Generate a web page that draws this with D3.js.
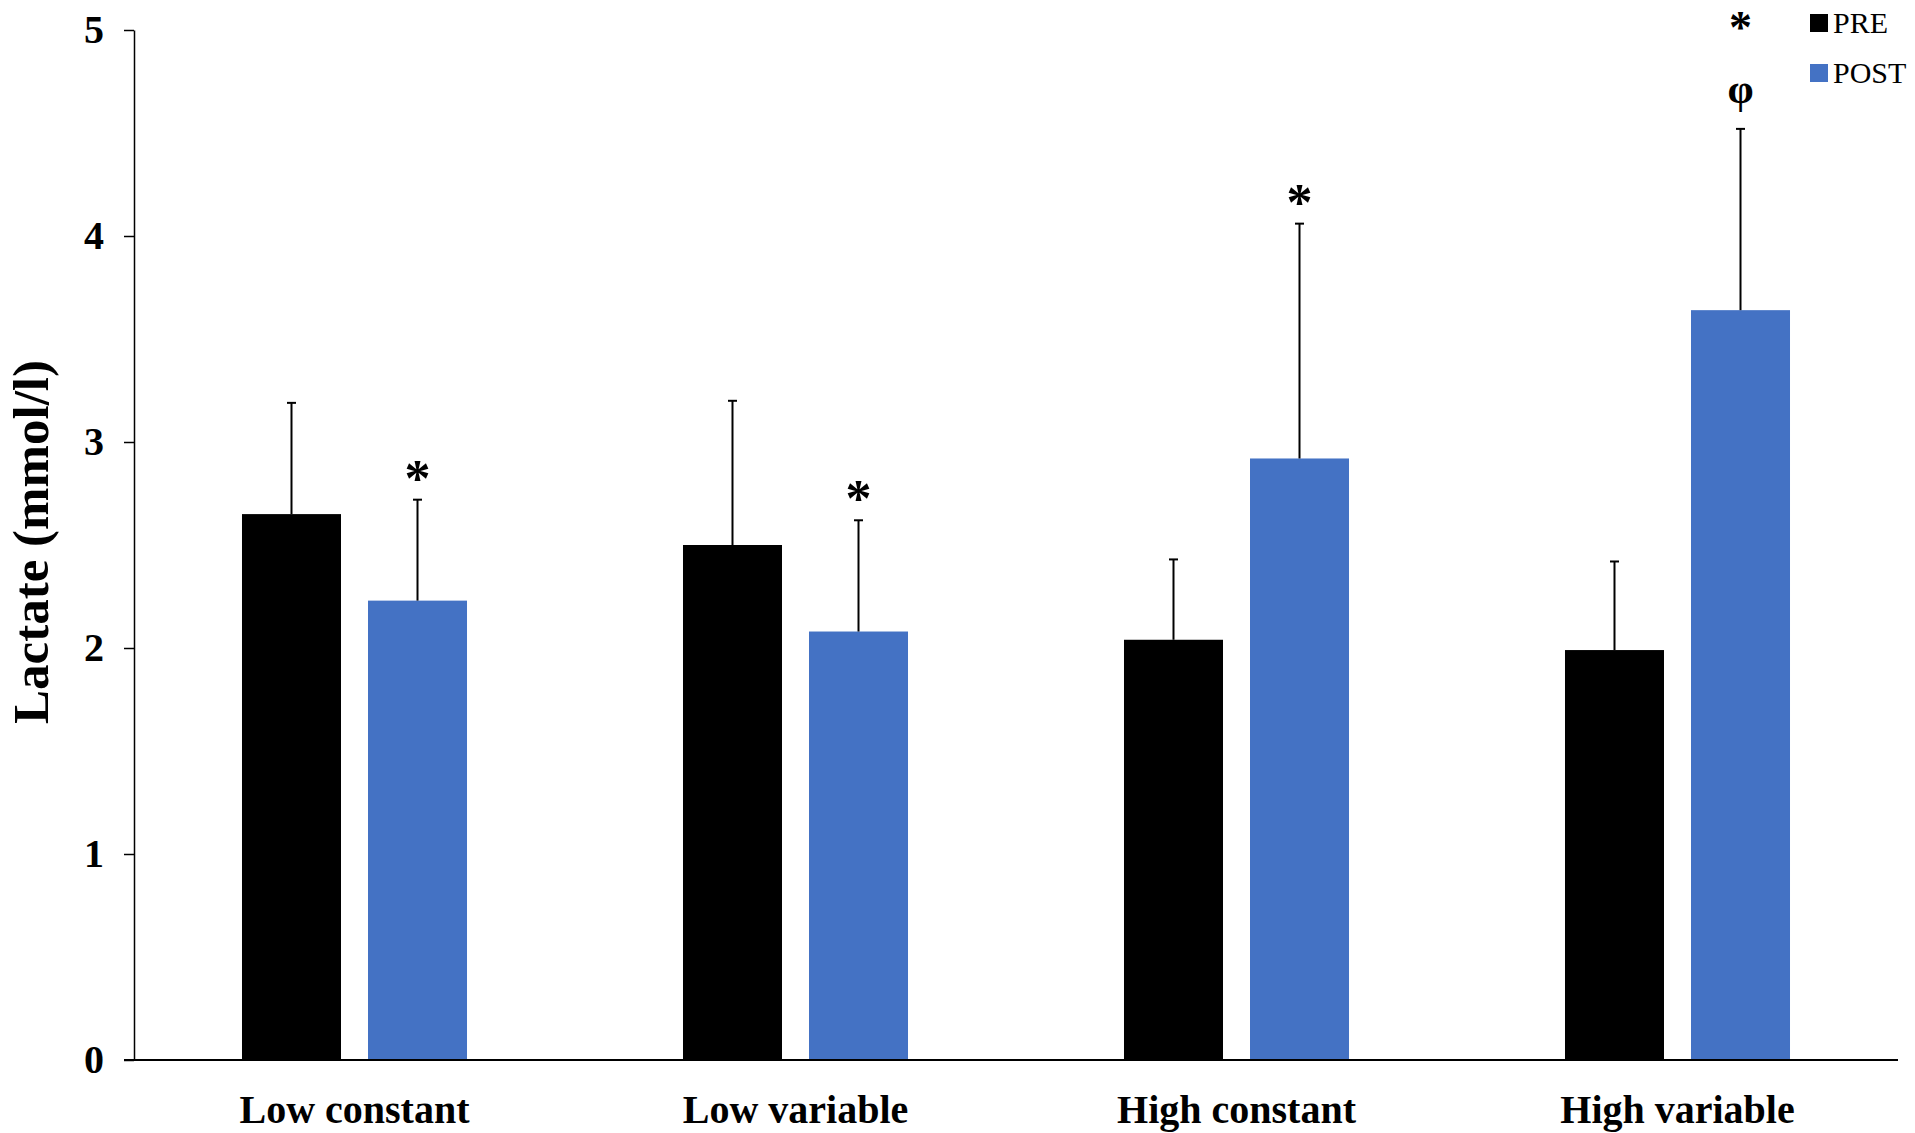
<!DOCTYPE html>
<html>
<head>
<meta charset="utf-8">
<script src="https://cdn.jsdelivr.net/npm/d3@7"></script>
<style>
  html, body { margin: 0; padding: 0; background: #fff; }
  svg { display: block; }
  text { font-family: "Liberation Serif", "Times New Roman", serif; fill: #000; }
</style>
</head>
<body>
<svg id="chart" width="1915" height="1133"></svg>
<script>
// ---- data ----
const categories = ["Low constant", "Low variable", "High constant", "High variable"];
const series = ["PRE", "POST"];
const preValues  = [2.65, 2.50, 2.04, 1.99];
const postValues = [2.23, 2.08, 2.92, 3.64];
const preSD  = [0.54, 0.70, 0.39, 0.43];
const postSD = [0.49, 0.54, 1.14, 0.88];
const postMarks = [["*"], ["*"], ["*"], ["*", "\u03C6"]];
const yTicks = [0, 1, 2, 3, 4, 5];
const yLabel = "Lactate (mmol/l)";
const colors = { PRE: "#000000", POST: "#4472C4" };

// ---- layout ----
const svg = d3.select("#chart");
const mLeft = 134, mRight = 1898, mTop = 30, mBottom = 1060;

const x = d3.scaleBand().domain(categories).range([mLeft, mRight]).paddingInner(0).paddingOuter(0);
const xs = d3.scaleBand().domain(series).range([0, x.bandwidth()]).paddingInner(0.2143).paddingOuter(0.857);
const y = d3.scaleLinear().domain([0, 5]).range([mBottom, mTop]);

const rows = [];
categories.forEach((c, i) => {
  rows.push({ cat: c, s: "PRE", v: preValues[i], sd: preSD[i], marks: [] });
  rows.push({ cat: c, s: "POST", v: postValues[i], sd: postSD[i], marks: postMarks[i] });
});

// bars
svg.append("g").selectAll("rect").data(rows).join("rect")
  .attr("x", d => x(d.cat) + xs(d.s))
  .attr("y", d => y(d.v))
  .attr("width", xs.bandwidth())
  .attr("height", d => y(0) - y(d.v))
  .attr("fill", d => colors[d.s]);

// error bars
const eb = svg.append("g").attr("stroke", "#000").attr("stroke-width", 2);
rows.forEach(d => {
  const cx = x(d.cat) + xs(d.s) + xs.bandwidth() / 2;
  eb.append("line").attr("x1", cx).attr("x2", cx).attr("y1", y(d.v)).attr("y2", y(d.v + d.sd));
  eb.append("line").attr("x1", cx - 4.5).attr("x2", cx + 4.5).attr("y1", y(d.v + d.sd)).attr("y2", y(d.v + d.sd));
});

// significance marks
rows.forEach(d => {
  if (!d.marks.length) return;
  const cx = x(d.cat) + xs(d.s) + xs.bandwidth() / 2;
  const capY = y(d.v + d.sd);
  const n = d.marks.length;
  d.marks.forEach((m) => {
    const isStar = m === "*";
    let base, fs;
    if (n === 1) { base = capY - 4; fs = 52; }
    else if (isStar) { base = capY - 86; fs = 46; }
    else { base = capY - 26; fs = 42; }
    svg.append("text")
      .attr("x", cx)
      .attr("y", base)
      .attr("text-anchor", "middle")
      .attr("font-weight", "bold")
      .attr("font-size", fs)
      .text(m);
  });
});

// y axis
const yAxis = d3.axisLeft(y).tickValues(yTicks).tickFormat(d3.format("d")).tickSize(10).tickSizeOuter(0).tickPadding(20);
const gy = svg.append("g").attr("transform", `translate(${mLeft},0)`).call(yAxis);
gy.select(".domain").attr("stroke", "#000").attr("stroke-width", 1.5);
gy.selectAll(".tick line").attr("stroke", "#000").attr("stroke-width", 1.5);
gy.selectAll(".tick text")
  .attr("font-family", "'Liberation Serif', 'Times New Roman', serif")
  .attr("font-size", 40).attr("font-weight", "bold").attr("fill", "#000");

// x axis
const xAxis = d3.axisBottom(x).tickSize(0).tickSizeOuter(0).tickPadding(35);
const gx = svg.append("g").attr("transform", `translate(0,${mBottom})`).call(xAxis);
gx.select(".domain").remove();
gx.selectAll(".tick text")
  .attr("font-family", "'Liberation Serif', 'Times New Roman', serif")
  .attr("font-size", 40).attr("font-weight", "bold").attr("fill", "#000");
svg.append("line")
  .attr("x1", x.range()[0] - 10).attr("x2", x.range()[1])
  .attr("y1", y(0)).attr("y2", y(0))
  .attr("stroke", "#000").attr("stroke-width", 2);

// y label
svg.append("text")
  .attr("transform", `translate(48,542) rotate(-90)`)
  .attr("text-anchor", "middle")
  .attr("font-size", 51).attr("font-weight", "bold")
  .text(yLabel);

// legend
const lg = svg.append("g").attr("transform", "translate(1810,14)");
series.forEach((s, i) => {
  const g = lg.append("g").attr("transform", `translate(0,${i * 50})`);
  g.append("rect").attr("width", 18).attr("height", 18).attr("fill", colors[s]);
  g.append("text").attr("x", 23).attr("y", 19).attr("font-size", 30).text(s);
});
</script>
</body>
</html>
